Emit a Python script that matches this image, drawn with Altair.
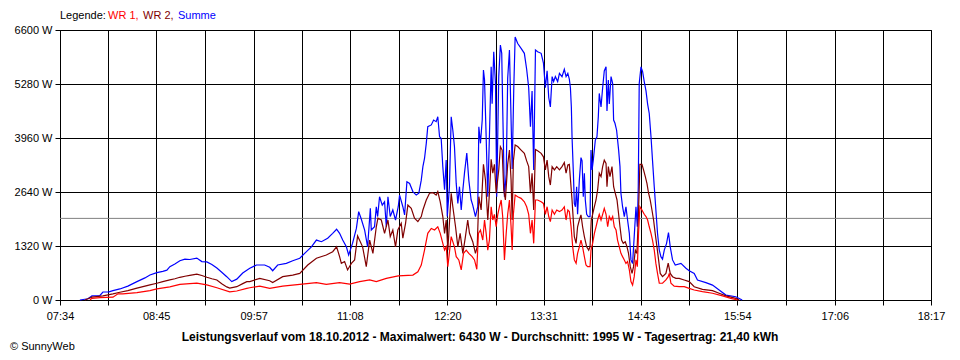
import altair as alt
import pandas as pd

# ---- data (time in minutes since midnight, power in W) ----
SUMME_T = [468.7, 474.6, 477.6, 483.5, 485.7, 490.1, 493.1, 498.2, 504.1, 510.8, 516.7, 520.4, 525.5, 529.9, 532.9, 535.1, 538.8, 542.5, 546.2, 549.8,
           555.0, 558.7, 562.4, 566.1, 569.8, 573.4, 577.1, 580.8, 584.5, 588.9, 591.9, 594.1, 599.0, 605.1, 608.8, 611.0, 614.7, 621.1, 625.8, 631.0,
           634.6, 639.6, 643.3, 647.0, 651.6, 655.3, 658.2, 660.4, 662.7, 665.4, 667.1, 670.0, 672.8, 674.5, 676.4, 678.9, 681.1, 683.1, 683.8, 686.2,
           687.5, 688.5, 689.9, 691.9, 693.6, 694.9, 696.1, 697.8, 699.7, 701.7, 703.7, 704.7, 707.1, 708.4, 710.1, 712.1, 714.5, 717.0, 718.9, 720.7,
           721.9, 723.1, 724.4, 725.5, 728.1, 729.8, 731.7, 732.9, 734.2, 735.4, 736.6, 737.9, 739.1, 739.9, 741.5, 742.8, 744.0, 745.2, 746.5, 747.7,
           748.9, 750.2, 751.4, 752.6, 754.3, 755.8, 757.5, 758.7, 760.7, 762.4, 763.2, 764.4, 765.7, 766.6, 767.4, 768.6, 769.8, 771.0, 772.3, 773.0,
           774.2, 775.5, 776.4, 777.9, 779.1, 780.1, 780.8, 782.1, 783.4, 784.5, 785.8, 787.0, 787.8, 789.0, 790.0, 791.9, 794.4, 796.8, 798.5, 800.0,
           801.3, 802.5, 803.7, 805.0, 806.6, 809.2, 810.9, 812.3, 813.6, 814.8, 816.0, 817.3, 818.4, 819.7, 821.4, 822.7, 824.6, 826.3, 827.6, 828.9,
           830.0, 830.8, 831.5, 832.0, 833.0, 833.7, 834.5, 835.4, 836.1, 837.4, 838.6, 839.4, 840.3, 841.1, 841.8, 842.8, 844.0, 845.3, 846.0, 846.8,
           847.7, 849.2, 850.4, 851.4, 852.1, 853.4, 854.6, 855.8, 857.1, 857.8, 858.8, 859.5, 860.8, 862.0, 862.7, 863.7, 864.9, 866.4, 867.4, 868.1,
           869.3, 870.6, 871.8, 873.0, 874.3, 875.5, 876.7, 877.9, 879.2, 880.2, 880.9, 881.6, 882.9, 884.1, 885.3, 886.6, 887.8, 889.0, 890.3, 891.4,
           892.7, 893.9, 895.1, 896.4, 897.6, 898.8, 900.1, 901.8, 903.2, 904.5, 906.2, 908.2, 912.4, 916.1, 918.5, 922.2, 924.6, 930.8, 935.7, 940.6,
           945.6, 952.9, 957.6]
SUMME_W = [0, 30, 100, 110, 195, 200, 230, 270, 340, 450, 540, 610, 670, 700, 730, 815, 880, 960, 1000, 990,
           1025, 940, 930, 870, 780, 680, 570, 450, 510, 660, 730, 775, 855, 855, 800, 715, 855, 895, 960, 1020,
           1140, 1300, 1465, 1425, 1510, 1630, 1730, 1630, 1465, 1300, 1100, 1390, 1750, 2160, 1980, 1710, 1300, 2240, 1710, 1790,
           2280, 2040, 2525, 2320, 2400, 1790, 2525, 2040, 2200, 1955, 2280, 2565, 2280, 2080, 2890, 2850, 2650, 2565, 2610, 2930,
           3260, 3460, 3830, 4235, 4280, 4400, 4360, 4480, 3990, 3950, 3260, 2695, 3420, 2040, 2770, 4480, 4150, 3750, 2850, 2360,
           2770, 2200, 2690, 3100, 3590, 2930, 2450, 2320, 2040, 2280, 4235, 3830, 4400, 5620, 5380, 3990, 2525, 3990, 5700, 4800,
           6070, 5290, 2525, 5460, 6230, 6030, 4720, 2525, 3070, 5420, 6110, 4400, 3200, 5190, 6430, 6270, 6150, 6030, 5640, 5190,
           4235, 5110, 3180, 6110, 6070, 6030, 5790, 5190, 5600, 4950, 4720, 5460, 5340, 5460, 5340, 5540, 5460, 5640, 5460, 5540,
           5400, 5190, 4720, 3990, 3100, 2360, 2280, 2770, 2095, 2930, 3480, 3400, 2525, 3100, 2445, 2095, 2040, 2040, 3665, 3180,
           3420, 3910, 3990, 4480, 5050, 4720, 5190, 5600, 5700, 4620, 5380, 4790, 5460, 5290, 4400, 4320, 4150, 3665, 3260, 2610,
           2280, 2040, 2280, 1955, 1630, 980, 895, 1550, 2280, 1790, 2770, 5290, 5700, 5580, 5340, 5110, 4790, 4560, 3990, 3420,
           2770, 2200, 1630, 1220, 1060, 1000, 1220, 1385, 1650, 1300, 980, 855, 895, 775, 715, 650, 490, 425, 365, 245,
           120, 80, 0]

WR2_T = [472.4, 477.6, 485.7, 493.1, 498.2, 504.1, 510.8, 516.7, 520.4, 525.5, 529.9, 535.1, 538.8, 542.5, 546.2, 549.8, 555.0, 558.7, 562.4, 566.1,
         569.8, 573.4, 577.1, 579.3, 584.5, 588.9, 591.9, 594.1, 601.5, 608.8, 611.0, 618.4, 625.8, 631.0, 636.9, 643.3, 650.6, 655.3, 658.2, 660.4,
         661.7, 664.1, 666.3, 669.1, 671.5, 673.7, 677.4, 680.1, 682.6, 685.0, 687.5, 688.7, 691.2, 693.6, 696.1, 697.8, 699.7, 701.7, 703.4, 705.9,
         707.1, 709.1, 710.8, 713.3, 715.7, 718.2, 720.7, 721.9, 724.4, 726.8, 729.2, 731.7, 732.9, 734.7, 736.6, 737.9, 739.1, 740.3, 742.8, 744.0,
         746.0, 747.7, 749.4, 751.4, 753.3, 755.0, 756.3, 758.7, 760.7, 762.0, 763.2, 764.9, 766.6, 768.1, 769.8, 771.0, 772.3, 773.5, 774.7, 776.0,
         777.9, 779.1, 780.4, 781.6, 782.8, 784.5, 785.8, 787.0, 787.8, 788.7, 790.0, 791.9, 794.4, 796.8, 798.5, 800.0, 801.3, 802.5, 803.7, 805.0,
         806.6, 809.2, 810.9, 812.3, 813.6, 814.8, 816.0, 817.3, 819.0, 820.7, 822.7, 824.6, 826.3, 827.6, 828.9, 830.0, 832.0, 833.7, 835.0, 836.1,
         837.4, 838.6, 839.8, 841.1, 842.8, 844.3, 845.3, 846.2, 847.2, 848.5, 849.7, 850.9, 852.1, 853.4, 854.6, 855.8, 857.1, 857.8, 858.8, 860.0,
         861.5, 862.7, 863.9, 865.2, 866.4, 867.4, 868.6, 869.8, 871.3, 872.6, 873.7, 875.0, 876.3, 877.4, 878.7, 879.9, 880.9, 882.1, 883.6, 884.8,
         886.1, 887.3, 888.5, 889.7, 891.0, 892.2, 893.4, 894.7, 895.9, 897.1, 898.8, 901.3, 903.0, 904.5, 906.2, 908.7, 911.1, 914.8, 918.5, 922.2,
         928.3, 935.7, 940.6, 945.6, 952.9, 955.4]
WR2_W = [0, 70, 100, 150, 190, 230, 290, 340, 370, 410, 450, 490, 520, 555, 580, 600, 630, 600, 555, 520,
         490, 400, 320, 290, 325, 400, 450, 450, 530, 470, 425, 570, 610, 650, 855, 1020, 1100, 1180, 1300, 1060,
         895, 940, 735, 895, 980, 1565, 1300, 815, 1465, 1140, 1790, 2000, 1955, 1630, 1955, 1550, 1710, 1300, 1710, 1875,
         1510, 1875, 2320, 2240, 2000, 1915, 2040, 2200, 2445, 2610, 2625, 2565, 2650, 2400, 2040, 1630, 1955, 1220, 2610, 2280,
         1790, 1300, 1630, 1140, 1550, 1955, 1630, 1425, 1140, 1300, 2525, 2200, 3315, 2930, 1955, 2610, 3440, 3100, 3315, 2610,
         3180, 3750, 3665, 2690, 2445, 3315, 3665, 2930, 1955, 3400, 3790, 3750, 3665, 3585, 3400, 3260, 2610, 3100, 2200, 3680,
         3650, 3585, 3500, 3180, 3420, 3015, 2810, 3260, 3180, 3260, 3180, 3260, 3360, 3100, 3300, 3315, 2445, 1550, 1385, 1790,
         1955, 2080, 1790, 1550, 1300, 1220, 1300, 1955, 2095, 2280, 2445, 2690, 3100, 3015, 3260, 3420, 3340, 2770, 3260, 3015,
         3260, 2770, 2610, 2445, 2095, 1790, 1465, 1385, 1425, 1300, 1140, 815, 650, 815, 1220, 1140, 1955, 3315, 3315, 3180,
         3015, 2850, 2610, 2445, 2200, 1955, 1630, 1300, 980, 650, 570, 650, 900, 650, 570, 530, 530, 490, 450, 325,
         260, 230, 165, 100, 40, 0]

WR1_T = [476.1, 477.6, 483.5, 493.1, 496.8, 500.4, 510.8, 520.4, 525.5, 535.1, 542.5, 549.8, 555.0, 562.4, 569.8, 579.3, 584.5, 591.9, 594.1, 601.5,
         608.8, 618.4, 631.0, 643.3, 650.6, 660.4, 667.8, 675.2, 682.6, 687.5, 694.9, 703.7, 714.5, 718.2, 720.7, 723.1, 725.5, 728.1, 730.5, 732.9,
         734.7, 736.6, 737.9, 739.1, 740.3, 742.8, 745.2, 746.5, 748.4, 750.2, 751.9, 753.9, 755.8, 758.3, 760.0, 761.7, 762.9, 764.4, 766.1, 767.4,
         768.6, 769.8, 771.0, 772.3, 773.5, 774.7, 776.0, 777.2, 778.4, 779.7, 780.8, 782.1, 783.4, 784.5, 785.8, 787.0, 787.8, 788.7, 790.0, 791.9,
         794.4, 796.8, 798.5, 800.0, 801.3, 802.5, 803.7, 805.0, 806.6, 809.2, 810.9, 812.3, 813.6, 814.8, 816.0, 817.3, 819.0, 820.7, 822.7, 824.6,
         826.3, 827.6, 828.9, 830.0, 831.3, 832.5, 833.7, 835.0, 836.1, 837.4, 838.6, 839.8, 841.1, 842.3, 843.5, 845.3, 846.0, 847.2, 848.5, 849.7,
         850.9, 852.1, 853.4, 854.6, 855.8, 857.1, 858.3, 859.5, 860.8, 862.0, 863.2, 864.5, 865.6, 866.9, 868.1, 869.3, 870.6, 871.8, 873.0, 874.3,
         875.5, 876.7, 877.9, 879.2, 880.2, 881.1, 882.1, 883.6, 885.3, 886.6, 887.8, 889.0, 890.3, 891.4, 892.7, 893.9, 895.1, 896.4, 898.8, 901.3,
         903.0, 903.8, 905.0, 907.4, 911.1, 914.8, 918.5, 922.2, 928.3, 935.7, 943.1, 949.2, 954.1]
WR1_W = [0, 40, 60, 70, 150, 150, 180, 230, 270, 320, 380, 400, 410, 370, 300, 200, 220, 285, 300, 340,
         285, 340, 380, 425, 380, 425, 390, 450, 490, 450, 530, 590, 610, 690, 855, 1220, 1630, 1750, 1710, 1790,
         1630, 1385, 1220, 1300, 815, 1550, 1300, 1060, 980, 735, 1140, 1220, 1140, 1060, 980, 750, 1630, 1710, 1465, 1955,
         1630, 1220, 1465, 2280, 1955, 2095, 1790, 2095, 2280, 2445, 2040, 980, 1630, 2095, 2445, 1790, 1220, 2095, 2565, 2525,
         2485, 2400, 2280, 2095, 1630, 1955, 1385, 2445, 2445, 2400, 2360, 2095, 2280, 2040, 1915, 2200, 2095, 2200, 2160, 2200,
         2280, 1955, 2200, 2160, 1790, 1300, 980, 895, 1140, 1300, 1465, 1300, 1060, 855, 815, 815, 1220, 1385, 1630, 1790,
         1955, 2095, 1955, 2095, 2240, 2095, 1790, 2040, 1955, 2040, 1790, 1710, 1465, 1300, 1140, 1060, 980, 895, 940, 735,
         450, 365, 570, 980, 815, 1630, 2280, 2200, 2095, 2040, 1955, 1790, 1630, 1465, 1220, 895, 650, 410, 410, 490,
         570, 650, 410, 340, 325, 325, 285, 245, 205, 165, 100, 40, 0]

TICK_LABELS = ["07:34", "08:45", "09:57", "11:08", "12:20", "13:31", "14:43", "15:54", "17:06", "18:17"]
Y_TICKS = [0, 1320, 2640, 3960, 5280, 6600]
AVERAGE_W = 1995
LEGEND_PARTS = [("Legende:", "#000000"), ("WR 1,", "#FF0000"), ("WR 2,", "#800000"), ("Summe", "#0000FF")]
TITLE = "Leistungsverlauf vom 18.10.2012 - Maximalwert: 6430 W - Durchschnitt: 1995 W - Tagesertrag: 21,40 kWh"
COPYRIGHT = "\u00a9 SunnyWeb"

FONT = "Liberation Sans"

# ---- derived helpers ----
label_minutes = [int(s[:2]) * 60 + int(s[3:]) for s in TICK_LABELS]
mid_minutes = [(a + b) / 2 for a, b in zip(label_minutes[:-1], label_minutes[1:])]
grid_values = sorted(label_minutes + mid_minutes)

def frame(t, w):
    n = min(len(t), len(w))
    return pd.DataFrame({"t": t[:n], "w": w[:n], "i": list(range(n))})

df_sum = frame(SUMME_T, SUMME_W)
df_wr2 = frame(WR2_T, WR2_W)
df_wr1 = frame(WR1_T, WR1_W)

label_expr = (
    f"indexof({label_minutes}, datum.value) >= 0 ? "
    "format(floor(datum.value / 60), '02d') + ':' + format(datum.value % 60, '02d') : ''"
)

x_enc = alt.X(
    "t:Q",
    scale=alt.Scale(domain=[label_minutes[0], label_minutes[-1]], nice=False, zero=False),
    axis=alt.Axis(
        values=grid_values, labelExpr=label_expr, title=None, grid=True,
        gridColor="#000000", gridOpacity=1, gridWidth=1,
        tickColor="#000000", tickSize=5, tickWidth=1,
        domainColor="#000000", domainWidth=1,
        labelFont=FONT, labelFontSize=11, labelColor="#000000",
        labelPadding=5, labelOverlap=False, labelFlush=False,
    ),
)
y_enc = alt.Y(
    "w:Q",
    scale=alt.Scale(domain=[Y_TICKS[0], Y_TICKS[-1]], nice=False),
    axis=alt.Axis(
        values=Y_TICKS, format="d", labelExpr="datum.label + ' W'", title=None,
        grid=True, gridColor="#000000", gridOpacity=1, gridWidth=1,
        tickColor="#000000", tickSize=5, tickWidth=1,
        domainColor="#000000", domainWidth=1,
        labelFont=FONT, labelFontSize=11, labelColor="#000000",
        labelPadding=3, labelOverlap=False, labelFlush=False,
    ),
)

avg = alt.Chart(pd.DataFrame({"w": [AVERAGE_W]})).mark_rule(color="#808080", strokeWidth=1).encode(y=y_enc)

line_sum = alt.Chart(df_sum).mark_line(color="#0000FF", strokeWidth=1.2).encode(x=x_enc, y=y_enc, order="i:Q")
line_wr2 = alt.Chart(df_wr2).mark_line(color="#800000", strokeWidth=1.2).encode(x=x_enc, y=y_enc, order="i:Q")
line_wr1 = alt.Chart(df_wr1).mark_line(color="#FF0000", strokeWidth=1.2).encode(x=x_enc, y=y_enc, order="i:Q")

one = alt.Data(values=[{"k": 1}])
legend_x = [0, 48, 83, 118]
legend_layers = [
    alt.Chart(one).mark_text(text=txt, color=col, align="left", baseline="middle", font=FONT, fontSize=11)
    .encode(x=alt.value(px), y=alt.value(-14))
    for (txt, col), px in zip(LEGEND_PARTS, legend_x)
]
title_layer = alt.Chart(one).mark_text(
    text=TITLE, align="center", baseline="middle", font=FONT, fontSize=12, fontWeight="bold", color="#000000"
).encode(x=alt.value(420), y=alt.value(307))
copy_layer = alt.Chart(one).mark_text(
    text=COPYRIGHT, align="left", baseline="middle", font=FONT, fontSize=11, color="#000000"
).encode(x=alt.value(-50), y=alt.value(317))

chart = alt.layer(avg, line_sum, line_wr2, line_wr1, *legend_layers, title_layer, copy_layer).properties(
    width=871, height=270,
    padding={"left": 52, "top": 22, "right": 21, "bottom": 52},
    autosize=alt.AutoSizeParams(type="none"),
    background="#FFFFFF",
).configure_view(stroke="#000000", strokeWidth=1)

chart.save("out.html", embed_options={"renderer": "svg", "actions": False})
